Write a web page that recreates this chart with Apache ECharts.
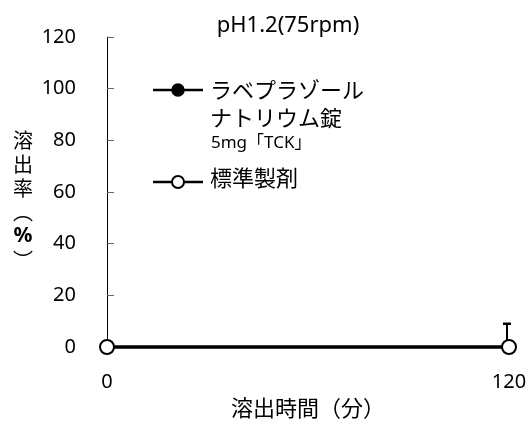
<!DOCTYPE html>
<html><head><meta charset="utf-8">
<script src="https://cdn.jsdelivr.net/npm/echarts@6/dist/echarts.min.js"></script>
<style>html,body{margin:0;padding:0;background:#fff}#c{width:530px;height:425px}</style>
</head><body><div id="c"></div>
<script>
const times = [0, 120];
const testValues = [0, 0];
const refValues = [0, 0];
const refErrorUpper = [0, 9];
const testName = "ラベプラゾールナトリウム錠5mg「TCK」";
const refName = "標準製剤";
const yTicks = [0, 20, 40, 60, 80, 100, 120];
const xTicks = [0, 120];

const FONT = '"Noto Sans", "Noto Sans CJK JP", sans-serif';
const JP = '"Noto Sans CJK JP", sans-serif';
const chart = echarts.init(document.getElementById('c'));
const errData = times.map((t, i) => [t, refValues[i], refErrorUpper[i]]).filter(d => d[2] > d[1]);

chart.setOption({
  animation: false,
  title: {text: 'pH1.2(75rpm)', left: 283, top: 10, textAlign: 'center',
    textStyle: {fontFamily: FONT, fontSize: 22, fontWeight: 'normal', color: '#000'}},
  grid: {left: 107, right: 21, top: 37, bottom: 78, containLabel: false, outerBoundsMode: 'none'},
  xAxis: {type: 'value', min: xTicks[0], max: xTicks[xTicks.length - 1], interval: 120,
    axisLine: {show: true, lineStyle: {color: '#000', width: 1}},
    axisTick: {show: false}, splitLine: {show: false},
    axisLabel: {fontFamily: FONT, fontSize: 20, color: '#000', margin: 25},
    name: '溶出時間（分）', nameLocation: 'middle', nameGap: 50,
    nameTextStyle: {fontFamily: JP, fontSize: 22, color: '#000'}},
  yAxis: {type: 'value', min: yTicks[0], max: yTicks[yTicks.length - 1], interval: 20,
    axisLine: {show: true, lineStyle: {color: '#000', width: 1}},
    axisTick: {show: true, inside: true, length: 7, lineStyle: {color: '#666'}},
    splitLine: {show: false},
    axisLabel: {fontFamily: FONT, fontSize: 20, color: '#000', margin: 31}},
  graphic: [
    {type: 'text', left: 13, top: 128, style: {text: '溶\n出\n率\n︵\n{b|%}\n︶', fontFamily: JP, fontSize: 20, lineHeight: 24, fill: '#000', textAlign: 'center',
      rich: {b: {fontFamily: FONT, fontWeight: 'bold', fontSize: 21, lineHeight: 24}}}},
    // legend item 1
    {type: 'line', shape: {x1: 153, y1: 90, x2: 203, y2: 90}, style: {stroke: '#000', lineWidth: 2.5}},
    {type: 'circle', shape: {cx: 178, cy: 90, r: 6}, style: {fill: '#000', stroke: '#000', lineWidth: 1.5}},
    {type: 'text', left: 210, top: 75, style: {text: 'ラベプラゾール\nナトリウム錠', fontFamily: JP, fontSize: 22, lineHeight: 28.5, fill: '#000'}},
    {type: 'text', left: 211, top: 135, style: {text: '5mg「TCK」', fontFamily: FONT, fontSize: 17, fill: '#000'}},
    // legend item 2
    {type: 'line', shape: {x1: 153, y1: 182, x2: 203, y2: 182}, style: {stroke: '#000', lineWidth: 2.5}},
    {type: 'circle', shape: {cx: 178, cy: 182, r: 6}, style: {fill: '#fff', stroke: '#000', lineWidth: 2}},
    {type: 'text', left: 210, top: 167, style: {text: refName, fontFamily: JP, fontSize: 22, fill: '#000'}}
  ],
  series: [
    {name: testName, type: 'line', data: times.map((t, i) => [t, testValues[i]]),
      symbol: 'circle', symbolSize: 13, lineStyle: {color: '#000', width: 3},
      itemStyle: {color: '#000', borderColor: '#000', borderWidth: 1.5}, z: 3, clip: false},
    {name: refName, type: 'line', data: times.map((t, i) => [t, refValues[i]]),
      symbol: 'circle', symbolSize: 14, lineStyle: {color: '#000', width: 3},
      itemStyle: {color: '#fff', borderColor: '#000', borderWidth: 2}, z: 4, clip: false},
    {name: refName + ' SD', type: 'custom', data: errData, z: 2, clip: false,
      renderItem: function (params, api) {
        const base = api.coord([api.value(0), api.value(1)]);
        const top = api.coord([api.value(0), api.value(2)]);
        const s = {stroke: '#000', lineWidth: 2};
        return {type: 'group', children: [
          {type: 'line', shape: {x1: base[0] - 2, y1: base[1], x2: base[0] - 2, y2: top[1]}, style: s},
          {type: 'line', shape: {x1: base[0] - 6, y1: top[1], x2: base[0] + 2, y2: top[1]}, style: {stroke: '#000', lineWidth: 2.5}}
        ]};
      }}
  ]
});
</script></body></html>
